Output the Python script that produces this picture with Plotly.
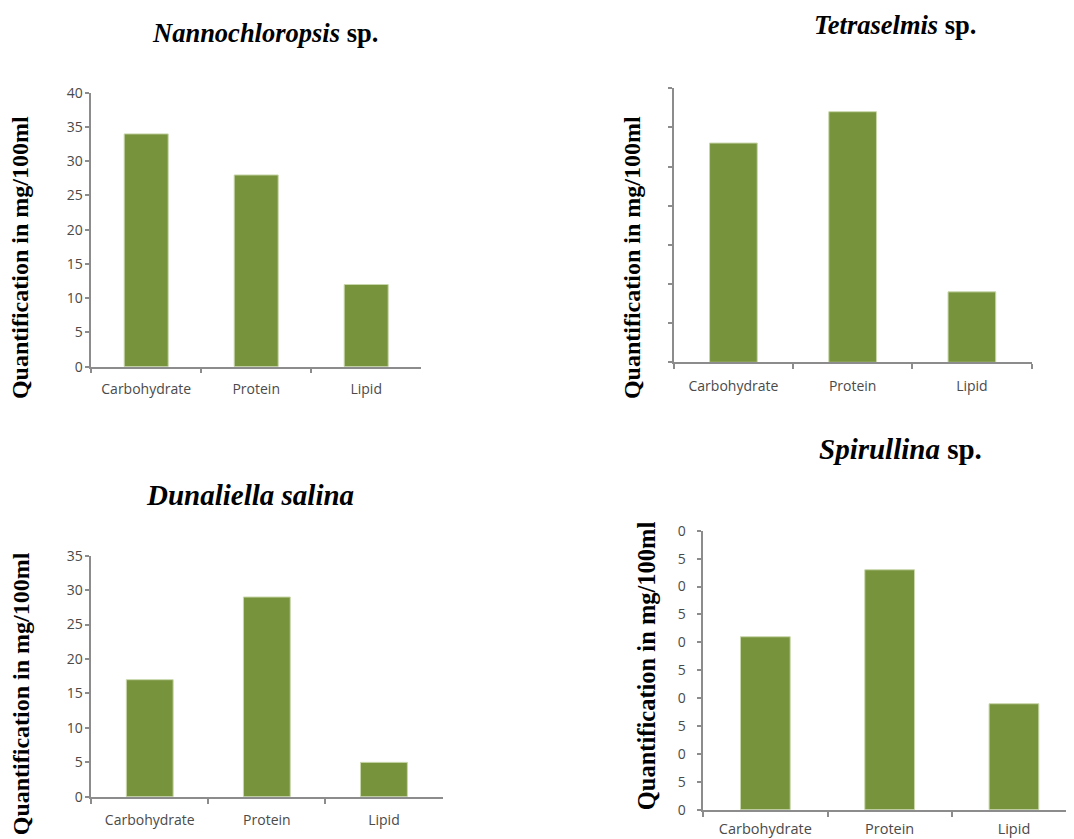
import plotly.graph_objects as go

W, H = 1074, 839

categories = ["Carbohydrate", "Protein", "Lipid"]
nannochloropsis = [34, 28, 12]
tetraselmis = [28, 32, 9]
dunaliella = [17, 29, 5]
spirullina = [31, 43, 19]

titles = [
    "<b><i>Nannochloropsis</i> sp.</b>",
    "<b><i>Tetraselmis</i> sp.</b>",
    "<b><i>Dunaliella salina</i></b>",
    "<b><i>Spirullina</i> sp.</b>",
]
y_title = "<b>Quantification in mg/100ml</b>"

tl_ticks = [0, 5, 10, 15, 20, 25, 30, 35, 40]
tr_ticks = [0, 5, 10, 15, 20, 25, 30, 35]
bl_ticks = [0, 5, 10, 15, 20, 25, 30, 35]
br_ticks = [0, 5, 10, 15, 20, 25, 30, 35, 40, 45, 50]
br_ticktext = ["0", "5", "0", "5", "0", "5", "0", "5", "0", "5", "0"]

BAR = "#77933C"
AXIS = "#8c8c8c"
TICKFONT = dict(family="Open Sans", size=14, color="#4a4a4a")

# screen-position helpers (compensate for page offset observed in rendering)
def px_x(v):
    return (v - 7.5) / W


def px_y(v):
    return 1 - ((v - 17.5) / 0.977) / H


fig = go.Figure()
series = [nannochloropsis, tetraselmis, dunaliella, spirullina]
for i, vals in enumerate(series):
    suffix = "" if i == 0 else str(i + 1)
    fig.add_trace(go.Bar(
        x=categories, y=vals, xaxis="x" + suffix, yaxis="y" + suffix,
        width=0.4, marker=dict(color=BAR, line=dict(color="#c9d7ab", width=1)),
        showlegend=False,
    ))


def xaxis(domain, rng, anchor, size=14, standoff=9):
    return dict(domain=domain, anchor=anchor, type="category", range=rng, showline=True,
                linecolor=AXIS, linewidth=1.5, ticks="outside", tickson="boundaries",
                ticklen=5, tickcolor=AXIS, tickwidth=1.5, showgrid=False, zeroline=False,
                tickfont=dict(TICKFONT, size=size), ticklabelstandoff=standoff)


def yaxis(domain, anchor, rng, tickvals, ticktext=None, show=True, standoff=0):
    d = dict(domain=domain, anchor=anchor, range=rng, tickvals=tickvals, showline=True,
             linecolor=AXIS, linewidth=1.5, ticks="outside", ticklen=4, tickcolor=AXIS,
             tickwidth=1.5, showgrid=False, zeroline=False, showticklabels=show,
             tickfont=TICKFONT, ticklabelstandoff=standoff)
    if ticktext is not None:
        d["ticktext"] = ticktext
    return d


br_left = px_x(702.7)
br_range_end = -0.5 + (W - (702.7 - 7.5)) / 124.3

fig.update_layout(
    width=W, height=H, margin=dict(l=0, r=0, t=0, b=0),
    paper_bgcolor="white", plot_bgcolor="white",
    xaxis=xaxis([px_x(90.7), px_x(420.7)], [-0.5, 2.5], "y"),
    yaxis=yaxis([px_y(366), px_y(92.3)], "x", [0, 40], tl_ticks),
    xaxis2=xaxis([px_x(673.3), px_x(1031)], [-0.5, 2.5], "y2", standoff=10),
    yaxis2=yaxis([px_y(361.7), px_y(87.7)], "x2", [0, 35], tr_ticks, show=False),
    xaxis3=xaxis([px_x(90.7), px_x(442)], [-0.5, 2.5], "y3", standoff=10),
    yaxis3=yaxis([px_y(796), px_y(555)], "x3", [0, 35], bl_ticks),
    xaxis4=xaxis([br_left, 1.0], [-0.5, br_range_end], "y4", size=14.5, standoff=5),
    yaxis4=yaxis([px_y(809), px_y(530)], "x4", [0, 50], br_ticks, br_ticktext, standoff=9),
)

SERIF = "Liberation Serif"
title_pos = [(264, 32, 26.5), (894, 24, 26.5), (249, 494, 29), (900, 448, 29)]
annotations = []
for t, (x, y, s) in zip(titles, title_pos):
    annotations.append(dict(text=t, x=px_x(x), y=px_y(y), xref="paper", yref="paper",
                            xanchor="center", yanchor="middle", showarrow=False,
                            font=dict(family=SERIF, size=s, color="black")))
ytitle_pos = [(19, 257, 24), (631, 257, 24), (20, 693, 24), (646, 665, 24.5)]
for x, y, s in ytitle_pos:
    annotations.append(dict(text=y_title, x=px_x(x), y=px_y(y), xref="paper", yref="paper",
                            xanchor="center", yanchor="middle", showarrow=False, textangle=-90,
                            font=dict(family=SERIF, size=s, color="black")))
fig.update_layout(annotations=annotations)

fig.write_html("out.html")
